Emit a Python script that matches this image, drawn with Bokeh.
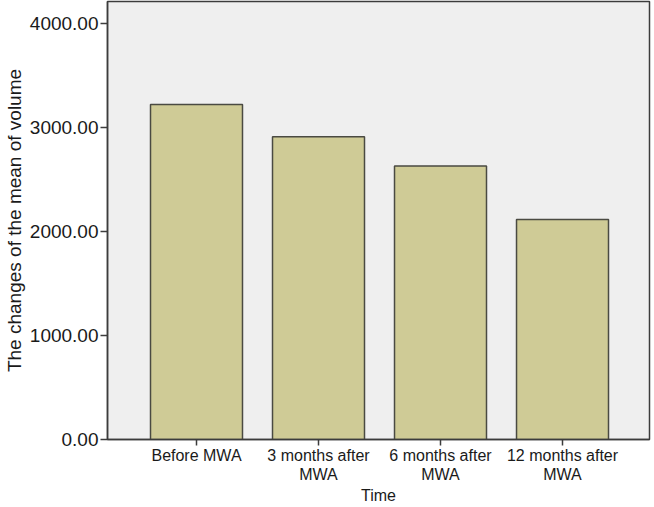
from bokeh.plotting import figure
from bokeh.models import Range1d, FixedTicker, PrintfTickFormatter, ColumnDataSource
from bokeh.embed import file_html
from bokeh.resources import INLINE

categories = ["Before MWA", "3 months after\nMWA", "6 months after\nMWA", "12 months after\nMWA"]
values = [3220, 2910, 2630, 2115]
y_ticks = [0, 1000, 2000, 3000, 4000]
x_title = "Time"
y_title = "The changes of the mean of volume"

xs = list(range(len(categories)))
src = ColumnDataSource(dict(x=xs, top=values))

FONT = "Liberation Sans"
DARK = "#3c3c3c"

p = figure(frame_width=542, frame_height=438, output_backend="svg", toolbar_location=None,
           x_range=Range1d(-0.7295, 3.713), y_range=Range1d(0, 4211),
           min_border_left=100, min_border_right=2, min_border_top=1, min_border_bottom=40)
p.background_fill_color = "#efefef"
p.border_fill_color = "white"
p.outline_line_color = DARK
p.outline_line_width = 1.5
p.xgrid.visible = False
p.ygrid.visible = False

p.vbar(x="x", top="top", width=0.754, bottom=0, source=src,
       fill_color="#cfcb96", line_color="#4a4a42", line_width=1.5)

p.xaxis.ticker = FixedTicker(ticks=xs)
p.xaxis.major_label_overrides = {i: c for i, c in zip(xs, categories)}
p.xaxis.minor_tick_line_color = None
p.xaxis.major_tick_in = 0
p.xaxis.major_tick_out = 6
p.xaxis.major_label_standoff = 1
p.xaxis.major_label_text_font = FONT
p.xaxis.major_label_text_font_size = "16px"
p.xaxis.major_label_text_line_height = 1.15
p.xaxis.major_label_text_color = "#1a1a1a"
p.xaxis.axis_label = x_title
p.xaxis.axis_label_text_font = FONT
p.xaxis.axis_label_text_font_size = "16px"
p.xaxis.axis_label_text_font_style = "normal"
p.xaxis.axis_label_text_color = "#1a1a1a"
p.xaxis.axis_label_text_line_height = 1.0
p.xaxis.axis_label_standoff = 1

p.yaxis.ticker = FixedTicker(ticks=y_ticks)
p.yaxis.formatter = PrintfTickFormatter(format="%.2f")
p.yaxis.minor_tick_line_color = None
p.yaxis.major_tick_in = 0
p.yaxis.major_tick_out = 7
p.yaxis.major_label_standoff = 2
p.yaxis.major_label_text_font = FONT
p.yaxis.major_label_text_font_size = "19px"
p.yaxis.major_label_text_color = "#1a1a1a"
p.yaxis.axis_label = y_title
p.yaxis.axis_label_text_font = FONT
p.yaxis.axis_label_text_font_size = "19px"
p.yaxis.axis_label_text_font_style = "normal"
p.yaxis.axis_label_text_color = "#1a1a1a"
p.yaxis.axis_label_standoff = 2

for ax in (p.xaxis, p.yaxis):
    ax.axis_line_color = DARK
    ax.axis_line_width = 1.5
    ax.major_tick_line_color = DARK
    ax.major_tick_line_width = 1.5

open("out.html", "w").write(file_html(p, INLINE))
